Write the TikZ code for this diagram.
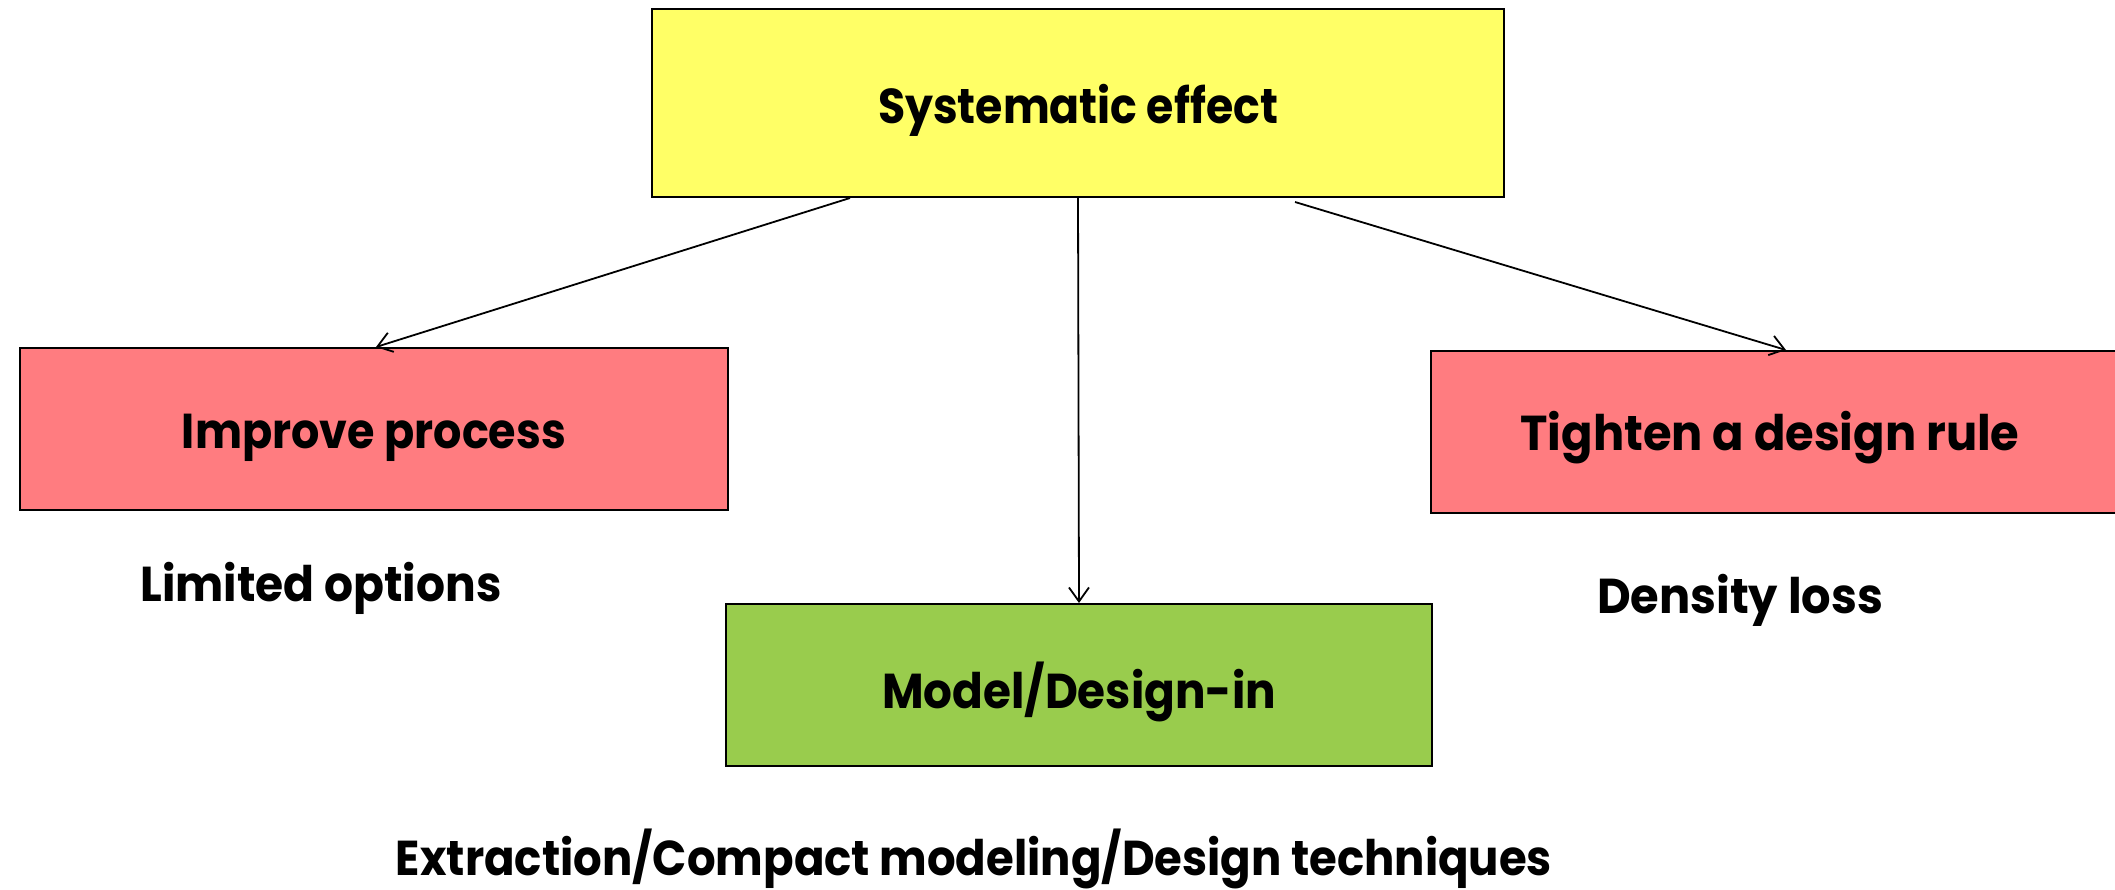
\documentclass[tikz,border=0pt]{standalone}
\usepackage{fontspec}
\setmainfont{Poppins}
\usetikzlibrary{arrows.meta}
\definecolor{boxyellow}{HTML}{FFFF66}
\definecolor{boxred}{HTML}{FF7C80}
\definecolor{boxgreen}{HTML}{99CC4D}
\newcommand{\fitw}[3]{\raisebox{#1}[\height][\depth]{\resizebox{#2}{\height}{#3}}}
\begin{document}
\begin{tikzpicture}[x=1pt,y=-1pt,
  box/.style={draw=black,line width=2pt,inner sep=0pt,font=\fontsize{49}{55}\selectfont\bfseries},
  lbl/.style={inner sep=0pt,font=\fontsize{49}{55}\selectfont\bfseries},
  arr/.style={draw=black,line width=1.8pt,-{Straight Barb[length=14pt,width=20pt,line width=1.8pt]}}]
\clip (0,0) rectangle (2115,889);
\node[box,fill=boxyellow,minimum width=852pt,minimum height=188pt] (top) at (1078,103) {\fitw{-7pt}{400pt}{Systematic effect}};
\node[box,fill=boxred,minimum width=708pt,minimum height=162pt] (left) at (374,429) {\fitw{-9pt}{384pt}{Improve process}};
\node[box,fill=boxred,minimum width=694pt,minimum height=162pt] (right) at (1778,432) {\hspace*{-16pt}\fitw{-6pt}{499pt}{Tighten a design rule}};
\node[box,fill=boxgreen,minimum width=706pt,minimum height=162pt] (mid) at (1079,685) {\fitw{-7pt}{394pt}{Model/Design-in}};
\node[lbl] (lo) at (321,588) {\fitw{0pt}{361pt}{Limited options}};
\node[lbl] (dl) at (1740,600) {\fitw{0pt}{286pt}{Density loss}};
\node[lbl] (ex) at (974,859) {\fitw{0pt}{1156pt}{Extraction/Compact modeling/Design techniques}};
\draw[arr] ([xshift=199pt]top.south west) -- ([xshift=2pt]left.north);
\draw[arr] ([xshift=0pt]top.south) -- (mid.north);
\draw[arr] ([xshift=217pt,yshift=-4pt]top.south) -- ([xshift=8pt]right.north);
\end{tikzpicture}
\end{document}
